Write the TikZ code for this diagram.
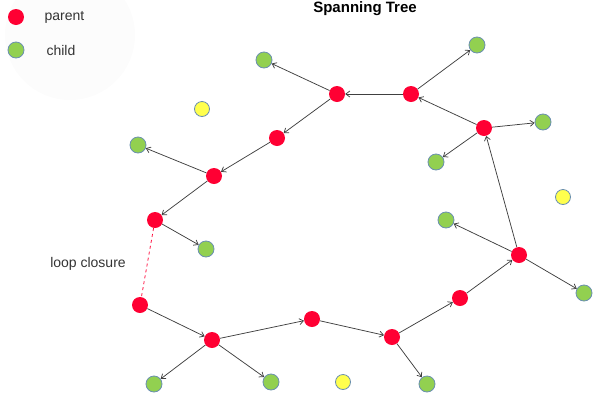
\documentclass[tikz,border=0pt]{standalone}
\usepackage{fontspec}
\setmainfont{Liberation Sans}
\usetikzlibrary{arrows.meta}
\definecolor{pred}{HTML}{FF0033}
\definecolor{cgreen}{HTML}{92D050}
\definecolor{cyel}{HTML}{FFFF4D}
\definecolor{cstroke}{HTML}{6A8FB0}
\definecolor{edgec}{HTML}{404040}
\begin{document}
\begin{tikzpicture}[x=1pt,y=-1pt,
  par/.style={circle,fill=pred,minimum size=16pt,inner sep=0pt},
  chi/.style={circle,fill=cgreen,draw=cstroke,line width=0.8pt,minimum size=16pt,inner sep=0pt},
  yel/.style={circle,fill=cyel,draw=cstroke,line width=0.8pt,minimum size=15pt,inner sep=0pt},
  edge/.style={draw=edgec,line width=0.75pt,-{Straight Barb[length=4pt,width=6pt]}},
  lbl/.style={font=\fontsize{14}{16}\selectfont,text=black!80}]
\useasboundingbox (0,0) rectangle (598,400);
\fill[black!1.2] (70,35) circle (65);
% legend
\node[par] (lp) at (16,17) {};
\node[chi] (lc) at (16,50) {};
\node[lbl,anchor=west] (lpt) at (41,17) {parent};
\node[lbl,anchor=west] (lct) at (43,50) {child};
\node[font=\bfseries\fontsize{15}{17}\selectfont] (title) at (365,9) {Spanning Tree};
% parents
\node[par] (p1) at (337,94) {};
\node[par] (p2) at (411,94) {};
\node[par] (p3) at (484,128) {};
\node[par] (p4) at (277,138) {};
\node[par] (p5) at (214,176) {};
\node[par] (p6) at (155,220) {};
\node[par] (p7) at (140,305) {};
\node[par] (p8) at (212,340) {};
\node[par] (p9) at (312,319) {};
\node[par] (p10) at (392,337) {};
\node[par] (p11) at (460,298) {};
\node[par] (p12) at (519,255) {};
% children
\node[chi] (g1) at (264,60) {};
\node[chi] (g2) at (477,45) {};
\node[chi] (g3) at (543,122) {};
\node[chi] (g4) at (436,162) {};
\node[chi] (g5) at (138,145) {};
\node[chi] (g6) at (206,249) {};
\node[chi] (g7) at (446,220) {};
\node[chi] (g8) at (584,293) {};
\node[chi] (g9) at (154,384) {};
\node[chi] (g10) at (271,382) {};
\node[chi] (g11) at (427,384) {};
% yellow
\node[yel] (y1) at (202,109) {};
\node[yel] (y2) at (563,197) {};
\node[yel] (y3) at (343,382) {};
% edges
\draw[edge] (p1) -- (g1);
\draw[edge] (p2) -- (p1);
\draw[edge] (p2) -- (g2);
\draw[edge] (p3) -- (p2);
\draw[edge] (p3) -- (g3);
\draw[edge] (p3) -- (g4);
\draw[edge] (p1) -- (p4);
\draw[edge] (p4) -- (p5);
\draw[edge] (p5) -- (g5);
\draw[edge] (p5) -- (p6);
\draw[edge] (p6) -- (g6);
\draw[pred,dashed,line width=0.75pt] (p6) -- (p7);
\draw[edge] (p7) -- (p8);
\draw[edge] (p8) -- (g9);
\draw[edge] (p8) -- (g10);
\draw[edge] (p8) -- (p9);
\draw[edge] (p9) -- (p10);
\draw[edge] (p10) -- (g11);
\draw[edge] (p10) -- (p11);
\draw[edge] (p11) -- (p12);
\draw[edge] (p12) -- (g7);
\draw[edge] (p12) -- (g8);
\draw[edge] (p12) -- (p3);
\node[lbl] (lc2) at (88,264) {loop closure};
\end{tikzpicture}
\end{document}
